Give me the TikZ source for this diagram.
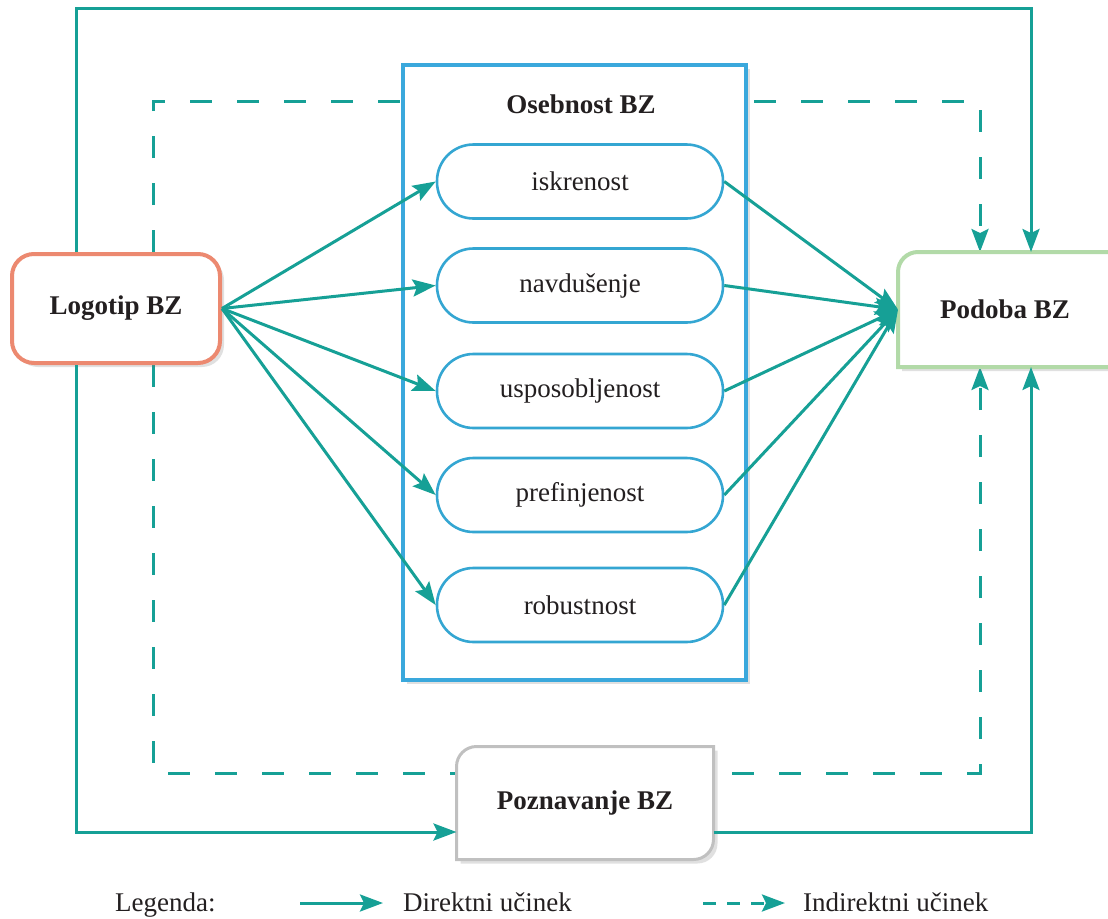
\documentclass[tikz,border=0pt]{standalone}
\usepackage{fontspec}
\setmainfont{Liberation Serif}
\usetikzlibrary{arrows.meta,shadows,backgrounds}
\definecolor{tealc}{RGB}{22,160,150}
\definecolor{bluebox}{RGB}{58,168,220}
\definecolor{pillc}{RGB}{52,166,210}
\definecolor{orangec}{RGB}{236,137,112}
\definecolor{greenc}{RGB}{178,218,168}
\definecolor{grayc}{RGB}{192,192,192}
\definecolor{txtc}{RGB}{35,31,32}
\begin{document}
\begin{tikzpicture}[x=1pt,y=-1pt,
  every node/.style={text=txtc, font=\fontsize{27}{32}\selectfont, inner sep=0pt},
  boldtext/.style={font=\fontsize{27}{32}\selectfont\bfseries},
  softshadow/.style={drop shadow={shadow xshift=4pt, shadow yshift=-4pt, opacity=0.2, fill=black!60}},
  tealline/.style={draw=tealc, line width=3pt},
  direct/.style={tealline, -{Stealth[length=23pt,width=17pt,inset=4pt]}},
  indirect/.style={direct, dash pattern=on 22pt off 25pt},
  pill/.style={draw=pillc, line width=2.6pt, fill=white, rounded corners=36.5pt, minimum width=286pt, minimum height=74pt},
]
\useasboundingbox (0,0) rectangle (1108,918);

% main boxes
\node[draw=bluebox, line width=3.6pt, fill=white, minimum width=343pt, minimum height=615pt, softshadow] (ose) at (574.5,372.5) {};
\node[boldtext] (osetitle) at (581,104) {Osebnost BZ};

\node[pill] (isk) at (580,181.5) {iskrenost};
\node[pill] (nav) at (580,285.5) {navdušenje};
\node[pill] (usp) at (580,391) {usposobljenost};
\node[pill] (pre) at (580,495) {prefinjenost};
\node[pill] (rob) at (580,605) {robustnost};

\node[boldtext, draw=orangec, line width=4pt, fill=white, rounded corners=22pt, minimum width=208pt, minimum height=109pt, softshadow] (logo) at (116,308.5) {Logotip BZ};

\node[boldtext, minimum width=210pt, minimum height=111pt, outer sep=2pt] (pod) at (1005,309.5) {Podoba BZ};
\node[boldtext, minimum width=254pt, minimum height=110pt, outer sep=1.5pt] (pz) at (585,803) {Poznavanje BZ};

% helper coordinates
\coordinate (xA) at (76,0);
\coordinate (xB) at (153,0);
\coordinate (xC) at (980,0);
\coordinate (xD) at (1031,0);
\coordinate (stR) at (1031,8);
\coordinate (dtR) at (980,101);
\coordinate (dbR) at (980,773);
\coordinate (pzL) at ([yshift=-29pt]pz.west);
\coordinate (pzR) at ([yshift=-29pt]pz.east);

\begin{scope}[on background layer]
  % indirect (dashed) connectors
  \draw[indirect] (logo.north -| xB) |- (dtR) -- (pod.north -| xC);
  \draw[indirect] (logo.south -| xB) |- (dbR) -- (pod.south -| xC);
  % custom-corner boxes
  \draw[draw=greenc, line width=4pt, fill=white, softshadow]
    (pod.south west) -- ([yshift=-20pt]pod.north west)
    arc[start angle=180, end angle=90, radius=20pt]
    -- (pod.north east) -- (pod.south east) -- cycle;
  \draw[draw=grayc, line width=3pt, fill=white, softshadow]
    (pz.south west) -- ([yshift=-20pt]pz.north west)
    arc[start angle=180, end angle=90, radius=20pt]
    -- (pz.north east) -- ([yshift=20pt]pz.south east)
    arc[start angle=0, end angle=-90, radius=20pt] -- cycle;
\end{scope}

% direct connectors
\draw[direct] (logo.north -| xA) |- (stR) -- (pod.north -| xD);
\draw[direct] (logo.south -| xA) |- (pzL);
\draw[direct] (pzR) -| (pod.south -| xD);

\foreach \p in {isk,nav,usp,pre,rob}{
  \draw[direct] (logo.east) -- (\p.west);
  \draw[direct] (\p.east) -- (pod.west);
}

% legend
\node[anchor=base west] (leg) at (115,911) {Legenda:};
\coordinate (l1a) at (300,903);
\coordinate (l1b) at (383,903);
\draw[direct] (l1a) -- (l1b);
\node[anchor=base west] (ldir) at (403,911) {Direktni učinek};
\coordinate (l2a) at (703,903);
\coordinate (l2b) at (785,903);
\draw[direct, dash pattern=on 13pt off 11pt] (l2a) -- (l2b);
\node[anchor=base west] (lind) at (803,911) {Indirektni učinek};
\end{tikzpicture}
\end{document}
